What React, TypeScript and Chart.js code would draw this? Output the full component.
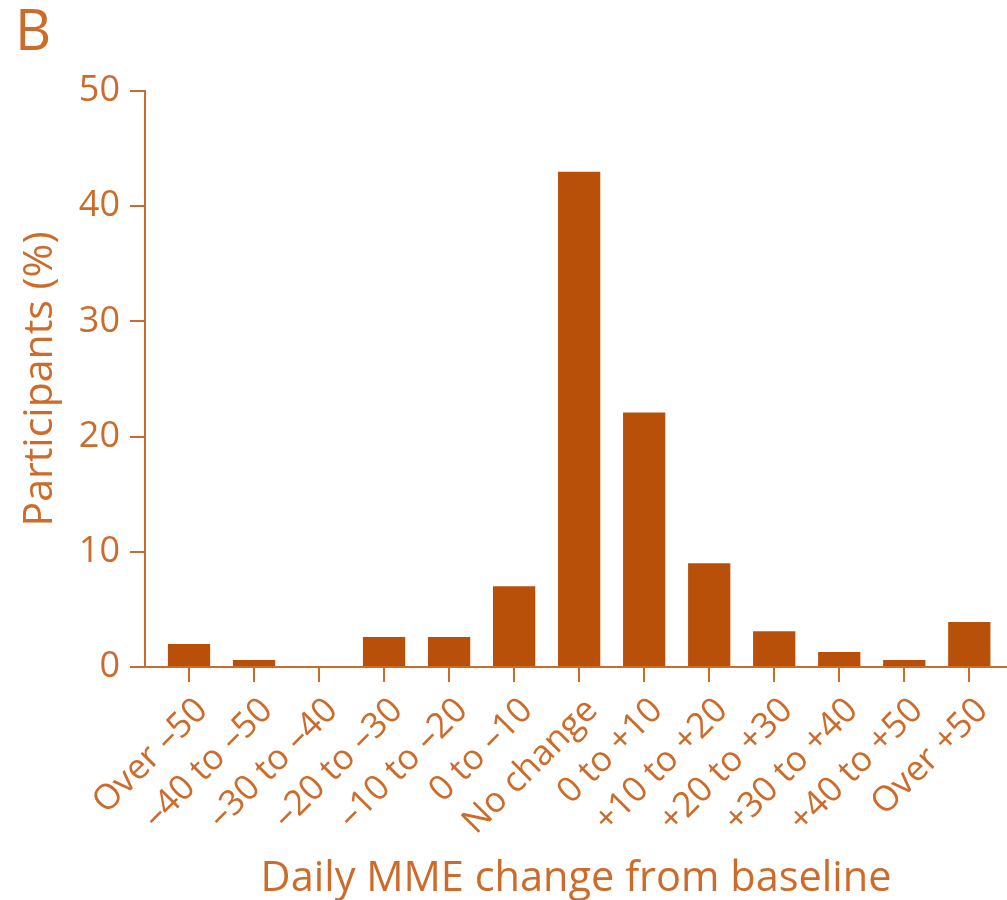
import React, { useEffect, useRef } from "react";
import { Chart, registerables } from "chart.js";

Chart.register(...registerables);

// Change-in-dose bins (daily MME vs. baseline)
const categories: string[] = [
  "Over –50",
  "–40 to –50",
  "–30 to –40",
  "–20 to –30",
  "–10 to –20",
  "0 to –10",
  "No change",
  "0 to +10",
  "+10 to +20",
  "+20 to +30",
  "+30 to +40",
  "+40 to +50",
  "Over +50",
];

// Share of participants in each bin (%)
const participantsPct: number[] = [2.0, 0.6, 0, 2.6, 2.6, 7.0, 43.0, 22.1, 9.0, 3.1, 1.3, 0.6, 3.9];

const yTicks: number[] = [0, 10, 20, 30, 40, 50];

const panelLabel = "B";
const xTitle = "Daily MME change from baseline";
const yTitle = "Participants (%)";

const BAR_COLOR = "#B9500A";
const INK = "#CC6B2A";
const FONT = "'Open Sans', 'Noto Sans', sans-serif";

export default function App() {
  const canvasRef = useRef<HTMLCanvasElement | null>(null);

  useEffect(() => {
    const canvas = canvasRef.current;
    if (!canvas) return;

    const chart = new Chart(canvas, {
      type: "bar",
      data: {
        datasets: [
          {
            data: participantsPct.map((v, i) => ({ x: i, y: v })),
            backgroundColor: BAR_COLOR,
            borderWidth: 0,
            barPercentage: 0.65,
            categoryPercentage: 1,
          },
        ],
      },
      options: {
        animation: false,
        responsive: true,
        maintainAspectRatio: false,
        layout: { padding: { top: 91, right: 0, bottom: 0, left: 0 } },
        plugins: {
          legend: { display: false },
          tooltip: { enabled: false },
        },
        scales: {
          x: {
            type: "linear",
            min: -0.677,
            max: 12.58,
            offset: false,
            afterFit: (scale: any) => {
              scale.height = 233;
            },
            afterBuildTicks: (scale: any) => {
              scale.ticks = categories.map((_, i) => ({ value: i }));
            },
            ticks: {
              autoSkip: false,
              minRotation: 45,
              maxRotation: 45,
              padding: 8,
              labelOffset: 13,
              color: INK,
              font: { family: FONT, size: 35 },
              callback: (value: any) => categories[Math.round(Number(value))] ?? "",
            },
            grid: {
              display: true,
              offset: false,
              drawOnChartArea: false,
              drawTicks: true,
              tickLength: 15,
              color: INK,
              lineWidth: 2,
            },
            border: { display: true, color: INK, width: 2 },
            title: {
              display: true,
              text: xTitle,
              color: INK,
              font: { family: FONT, size: 41.5 },
              padding: { top: 0, bottom: -4 },
            },
          },
          y: {
            min: 0,
            max: 50,
            afterFit: (scale: any) => {
              scale.width = 145;
            },
            afterBuildTicks: (scale: any) => {
              scale.ticks = yTicks.map((v) => ({ value: v }));
            },
            ticks: {
              padding: 10,
              color: INK,
              font: { family: FONT, size: 36 },
            },
            grid: {
              display: true,
              drawOnChartArea: false,
              drawTicks: true,
              tickLength: 15,
              color: INK,
              lineWidth: 2,
            },
            border: { display: true, color: INK, width: 2 },
            title: {
              display: true,
              text: yTitle,
              color: INK,
              font: { family: FONT, size: 41 },
              padding: { top: 16, bottom: 0 },
            },
          },
        },
      },
    });

    return () => chart.destroy();
  }, []);

  return (
    <div style={{ position: "absolute", left: 0, top: 0, width: 1007, height: 900, background: "#fff" }}>
      <div
        style={{
          position: "absolute",
          left: 15,
          top: -10,
          fontFamily: FONT,
          fontSize: 56,
          lineHeight: "76px",
          color: INK,
        }}
      >
        {panelLabel}
      </div>
      <canvas ref={canvasRef} style={{ position: "absolute", left: 0, top: 0 }} />
    </div>
  );
}
